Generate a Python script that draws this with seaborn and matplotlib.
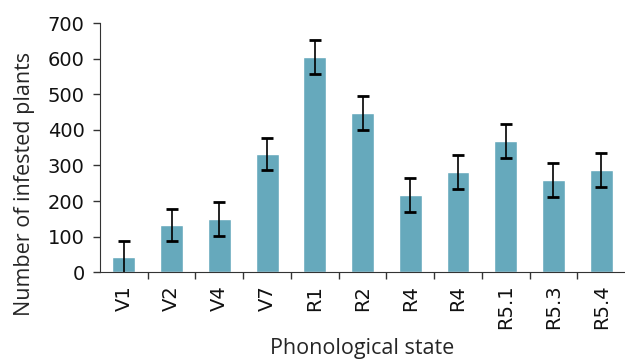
import numpy as np
import pandas as pd
import matplotlib
matplotlib.use('Agg')
import matplotlib.pyplot as plt
import seaborn as sns

# Данни, прочетени от графиката
stages = ['V1', 'V2', 'V4', 'V7', 'R1', 'R2', 'R4', 'R4', 'R5.1', 'R5.3', 'R5.4']
infested = [43, 133, 150, 332, 605, 447, 217, 282, 369, 259, 287]
errors = [45, 45, 47, 46, 48, 47, 47, 47, 47, 47, 47]

sns.set_style('ticks')
plt.rcParams['font.family'] = ['Open Sans', 'DejaVu Sans']

df = pd.DataFrame({'pos': range(len(stages)), 'stage': stages, 'value': infested})

fig = plt.figure(figsize=(6.25, 3.61), dpi=100)
ax = fig.add_axes([0.16, 0.2457, 0.84, 0.6905])

sns.barplot(data=df, x='pos', y='value', color='#66a9bc', saturation=1,
            width=0.48, errorbar=None, ax=ax)
ax.errorbar(df['pos'], df['value'], yerr=errors, fmt='none', ecolor='black',
            elinewidth=1.2, capsize=4.5, capthick=2)

ax.set_xlim(-0.5, len(stages) - 0.5)
ax.set_ylim(0, 700)
ax.set_yticks(range(0, 701, 100))
ax.set_xticks(range(len(stages)))
ax.set_xticklabels(stages, rotation=90)
ax.set_xticks(np.arange(0.5, len(stages) - 0.5, 1), minor=True)
ax.tick_params(axis='x', which='major', length=0, pad=9)
ax.tick_params(axis='x', which='minor', length=5, width=1, color='#333333')
ax.tick_params(axis='y', length=5, width=1, pad=6, color='#333333')
for lab in ax.get_xticklabels() + ax.get_yticklabels():
    lab.set_fontfamily('DejaVu Sans')
    lab.set_fontsize(14)
    lab.set_color('#111111')

ax.set_xlabel('Phonological state', fontsize=15.5)
ax.xaxis.set_label_coords(0.5, -0.265)
ax.set_ylabel('Number of infested plants', fontsize=15.5)
ax.yaxis.set_label_coords(-0.124, 0.354)

sns.despine(ax=ax)
ax.spines['left'].set_color('#333333')
ax.spines['bottom'].set_color('#333333')

plt.savefig('out.png', dpi=100)
plt.close()
